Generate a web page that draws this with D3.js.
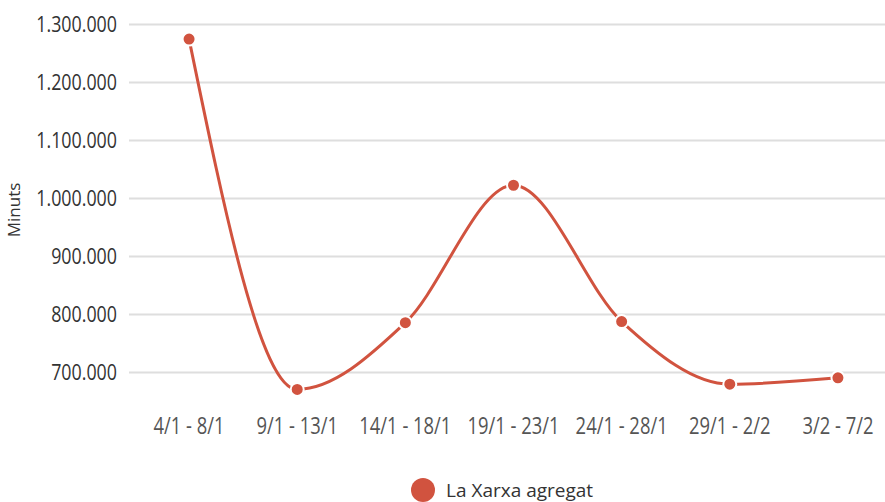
<!DOCTYPE html>
<html>
<head>
<meta charset="utf-8">
<script src="https://cdn.jsdelivr.net/npm/d3@7"></script>
<style>
body { margin: 0; background: #fff; }
svg text { font-family: "Open Sans", "Noto Sans", sans-serif; }
</style>
</head>
<body>
<svg id="chart" width="885" height="502"></svg>
<script>
// weekly totals
var weeks = ["4/1 - 8/1", "9/1 - 13/1", "14/1 - 18/1", "19/1 - 23/1",
             "24/1 - 28/1", "29/1 - 2/2", "3/2 - 7/2"];
var minuts = [1274000, 670000, 785000, 1022000, 787000, 679000, 690000];
var yTicks = [700000, 800000, 900000, 1000000, 1100000, 1200000, 1300000];
var seriesName = "La Xarxa agregat";

var color = "#d1533f";

var svg = d3.select("#chart");

var locale = d3.formatLocale({decimal: ",", thousands: ".", grouping: [3], currency: ["", "€"]});
var fmt = locale.format(",d");

var x = d3.scaleBand()
    .domain(weeks)
    .range([135, 892])
    .padding(0);

var y = d3.scaleLinear()
    .domain([700000, 1300000])
    .range([372, 24]);

// gridlines + y labels
var yAxis = svg.append("g")
    .attr("transform", "translate(129,0)")
    .call(d3.axisLeft(y).tickValues(yTicks).tickFormat(fmt).tickSize(0));
yAxis.select(".domain").remove();
yAxis.selectAll("text")
    .attr("x", 0)
    .attr("dy", "0.34em")
    .attr("transform", "translate(-12,0) scale(0.85,1)")
    .attr("fill", "#333")
    .style("font-size", "21px");
yAxis.selectAll(".tick").append("line")
    .attr("x1", 0).attr("x2", 885 - 129)
    .attr("stroke", "#dedede")
    .attr("stroke-width", 2);

// x labels (the font in the picture is narrow, so squeeze it)
var xAxis = svg.append("g")
    .attr("transform", "translate(0,434)")
    .call(d3.axisBottom(x).tickSize(0));
xAxis.select(".domain").remove();
xAxis.selectAll("text")
    .attr("y", 0)
    .attr("dy", 0)
    .attr("transform", "scale(0.8,1)")
    .attr("fill", "#555")
    .style("font-size", "23px");

// y title
svg.append("text")
    .attr("transform", "translate(20,210) rotate(-90)")
    .attr("text-anchor", "middle")
    .attr("fill", "#333")
    .style("font-size", "17px")
    .text("Minuts");

var line = d3.line()
    .x(function(d, i){ return x(weeks[i]) + x.bandwidth() / 2; })
    .y(function(d){ return y(d); })
    .curve(d3.curveMonotoneX);

svg.append("path")
    .datum(minuts)
    .attr("fill", "none")
    .attr("stroke", color)
    .attr("stroke-width", 3)
    .attr("d", line);

svg.selectAll(".dot")
    .data(minuts)
    .enter()
    .append("circle")
    .classed("dot", true)
    .attr("cx", function(d, i){ return x(weeks[i]) + x.bandwidth() / 2; })
    .attr("cy", function(d){ return y(d); })
    .attr("r", 6.5)
    .attr("fill", color)
    .attr("stroke", "#fff")
    .attr("stroke-width", 2);

// legend
var legend = svg.append("g").attr("transform", "translate(423,490)");
legend.append("circle")
    .attr("r", 12)
    .attr("fill", color);
legend.append("text")
    .attr("x", 23)
    .attr("y", 7)
    .attr("fill", "#333")
    .style("font-size", "19px")
    .text(seriesName);
</script>
</body>
</html>
